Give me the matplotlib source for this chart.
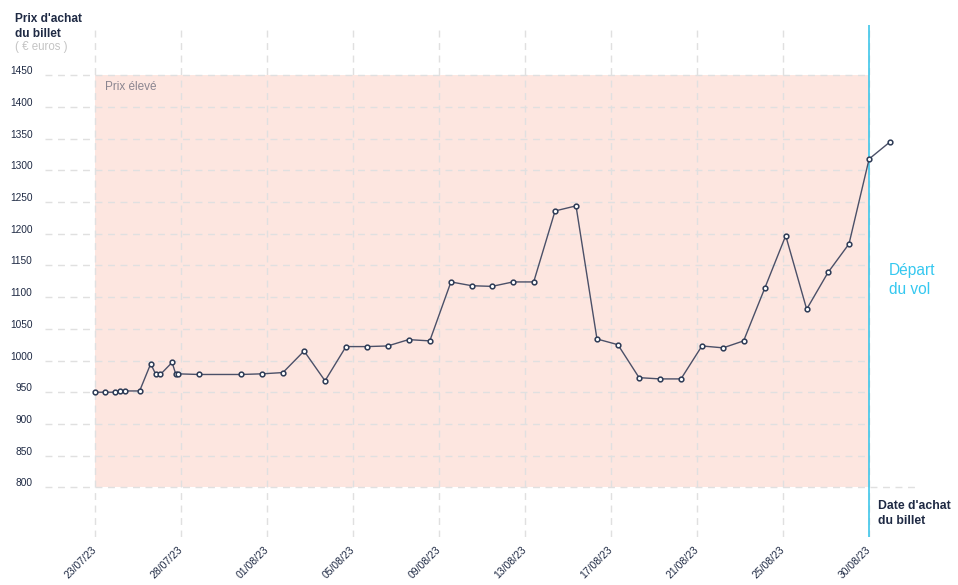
import matplotlib
matplotlib.use("Agg")
import matplotlib.pyplot as plt
import numpy as np
from matplotlib.transforms import ScaledTranslation

plt.rcParams['font.family'] = ['Liberation Sans', 'DejaVu Sans']

# ---- data (x = days since 23/07/23) ----
days = [0.00, 0.48, 0.95, 1.19, 1.42, 2.13, 2.66, 2.90, 3.12, 3.68, 3.85, 3.96,
        4.96, 6.97, 7.96, 8.97, 9.98, 10.98, 11.98, 12.98, 13.97, 14.97, 15.98,
        16.99, 17.99, 18.95, 19.95, 20.94, 21.96, 22.96, 23.96, 24.96, 25.97,
        26.97, 27.97, 28.97, 29.98, 30.96, 31.98, 32.97, 33.97, 34.99, 35.99,
        36.95, 37.95]
prices = [950, 950, 950, 952, 952, 952, 995, 978, 978, 997, 979, 979,
          978, 978, 979, 981, 1015, 968, 1022, 1022, 1023, 1033, 1031,
          1124, 1118, 1117, 1124, 1124, 1236, 1244, 1034, 1025, 973,
          971, 971, 1023, 1020, 1031, 1115, 1197, 1081, 1139, 1184,
          1318, 1345]
x_tick_labels = ["23/07/23", "28/07/23", "01/08/23", "05/08/23", "09/08/23",
                 "13/08/23", "17/08/23", "21/08/23", "25/08/23", "30/08/23"]
y_ticks = [800, 850, 900, 950, 1000, 1050, 1100, 1150, 1200, 1250,
           1300, 1350, 1400, 1450]
departure_day = 36.95
high_price_low, high_price_high = 800, 1450

W, H = 958, 585
fig = plt.figure(figsize=(W / 100, H / 100), dpi=100)
ax = fig.add_axes([45 / W, (H - 537) / H, 875 / W, (537 - 25) / H])

px_per_day = 20.95
ax.set_xlim((45 - 95) / px_per_day, (920 - 95) / px_per_day)
ppe = 412 / 650.0
ax.set_ylim(800 - (537 - 487.3) / ppe, 1450 + (75.3 - 25) / ppe)

for s in ax.spines.values():
    s.set_visible(False)

navy = '#1f2a44'
grid_c = '#e0e0e0'

# shaded high price zone
ax.fill_between([0, departure_day], high_price_low, high_price_high,
                color='#fde6e0', zorder=0.1, linewidth=0)

# vertical grid
x_ticks = np.linspace(0, departure_day, len(x_tick_labels))
ax.set_xticks(x_ticks)
ax.set_xticklabels(x_tick_labels, rotation=45, ha='right', va='center',
                   rotation_mode='anchor', fontsize=7.5, color=navy)
ax.tick_params(axis='x', length=0, pad=8)
ax.grid(axis='x', color=grid_c, linestyle=(0, (5, 4)), linewidth=1, zorder=0.5)
ax.set_axisbelow(True)

# horizontal grid
xmin, xmax = ax.get_xlim()
for yv in y_ticks:
    right = xmax if yv == y_ticks[0] else departure_day
    ax.hlines(yv, xmin, right, color=grid_c, linestyle=(0, (5, 4)),
              linewidth=1, zorder=0.5)
ax.set_yticks(y_ticks)
ax.set_yticklabels([str(v) for v in y_ticks], fontsize=7.3, color=navy)
ax.tick_params(axis='y', length=0, pad=9)
for lab in ax.get_yticklabels():
    lab.set_transform(lab.get_transform() + ScaledTranslation(0, 5 / 100, fig.dpi_scale_trans))

# departure line
ax.axvline(departure_day, color='#3ec6ea', linewidth=1.2, zorder=2)

# price line
ax.plot(days, prices, color='#4b5068', linewidth=1.0, marker='o', markersize=3.4,
        markerfacecolor='white', markeredgecolor='#2c3a55', markeredgewidth=1.1,
        zorder=3)

def ftext(x, y, s, **kw):
    fig.text(x / W, 1 - y / H, s, **kw)

ftext(15, 19, "Prix d'achat", fontsize=8.6, fontweight='bold', color=navy, va='center')
ftext(15, 34, "du billet", fontsize=8.6, fontweight='bold', color=navy, va='center')
ftext(15, 47, "( € euros )", fontsize=8.3, color='#c4c4c4', va='center')
ftext(105, 87, "Prix élevé", fontsize=8.5, color='#8a8590', va='center')
ftext(889, 270, "Départ", fontsize=11.2, color='#35c8f0', va='center')
ftext(889, 290, "du vol", fontsize=11.2, color='#35c8f0', va='center')
ftext(878, 506, "Date d'achat", fontsize=8.8, fontweight='bold', color=navy, va='center')
ftext(878, 521, "du billet", fontsize=8.8, fontweight='bold', color=navy, va='center')

fig.savefig("out.png", dpi=100)
